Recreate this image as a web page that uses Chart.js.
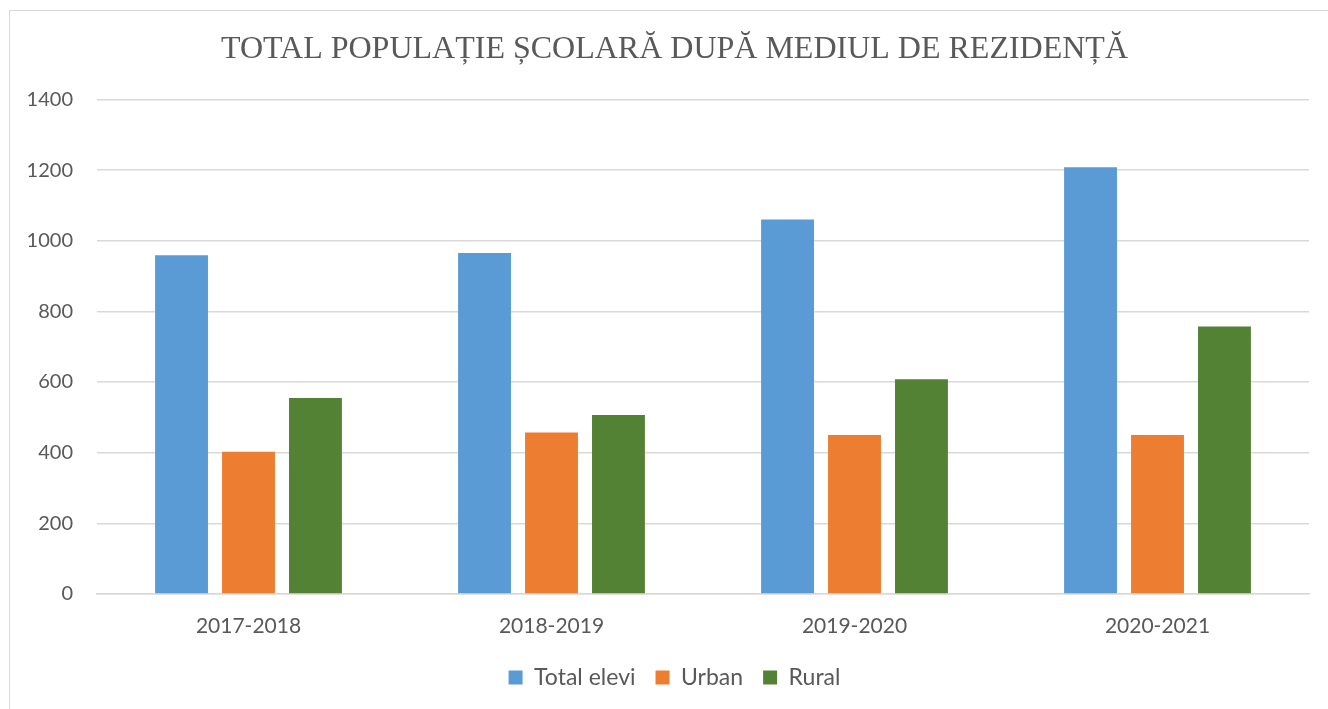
<!DOCTYPE html>
<html>
<head>
<meta charset="utf-8">
<script src="https://cdn.jsdelivr.net/npm/chart.js@4"></script>
<style>
  html, body { margin: 0; padding: 0; background: #fff; }
  #wrap { position: relative; width: 1328px; height: 709px; overflow: hidden; }
  #frame {
    position: absolute; left: 9px; top: 10px; width: 1340px; height: 720px;
    border: 1px solid #d9d9d9; box-sizing: border-box;
  }
  #chart { position: absolute; left: 0; top: 0; }
</style>
</head>
<body>
<div id="wrap">
  <div id="frame"></div>
  <canvas id="chart" width="1328" height="709"></canvas>
</div>
<script>
/* ===== DATA ===== */
const years = ["2017-2018", "2018-2019", "2019-2020", "2020-2021"];
const totalElevi = [959, 965, 1060, 1208];
const urban = [403, 457, 450, 450];
const rural = [555, 507, 608, 757];

const textColor = "#595959";
const gridColor = "#d9d9d9";

/* ===== CHART ===== */
new Chart(document.getElementById("chart"), {
  type: "bar",
  data: {
    labels: years,
    datasets: [
      { label: "Total elevi", data: totalElevi, backgroundColor: "#5b9bd5" },
      { label: "Urban", data: urban, backgroundColor: "#ed7d31" },
      { label: "Rural", data: rural, backgroundColor: "#548235" }
    ]
  },
  options: {
    responsive: false,
    animation: false,
    categoryPercentage: 0.663,
    barPercentage: 0.79,
    layout: { padding: { left: 21, right: 0, top: 0, bottom: 10 } },
    plugins: {
      title: {
        display: true,
        text: "TOTAL POPULAȚIE ȘCOLARĂ DUPĂ MEDIUL DE REZIDENȚĂ",
        color: textColor,
        font: { family: "'Liberation Serif', serif", size: 32, weight: "normal" },
        padding: { top: 30, bottom: 31 }
      },
      legend: {
        position: "bottom",
        labels: {
          color: textColor,
          font: { family: "Lato", size: 23 },
          boxWidth: 14,
          boxHeight: 14,
          padding: 20
        }
      },
      tooltip: { enabled: false }
    },
    scales: {
      x: {
        grid: { display: false, drawTicks: false },
        border: { color: gridColor, width: 1.5 },
        ticks: { color: textColor, font: { family: "Lato", size: 21 }, padding: 20 },
        afterFit: s => { s.height = 52; }
      },
      y: {
        min: 0,
        max: 1400,
        ticks: {
          stepSize: 200,
          color: textColor,
          font: { family: "Lato", size: 20 },
          padding: 24,
          callback: v => String(v)
        },
        grid: { color: gridColor, lineWidth: 1.5, drawTicks: false },
        border: { display: false },
        afterFit: s => { s.width = 76; }
      },
      // empty right axis, only keeps the plot off the right edge
      yRight: {
        position: "right",
        min: 0,
        max: 1400,
        ticks: { display: false },
        grid: { display: false, drawTicks: false },
        border: { display: false },
        afterFit: s => { s.width = 19; }
      }
    }
  }
});
</script>
</body>
</html>
